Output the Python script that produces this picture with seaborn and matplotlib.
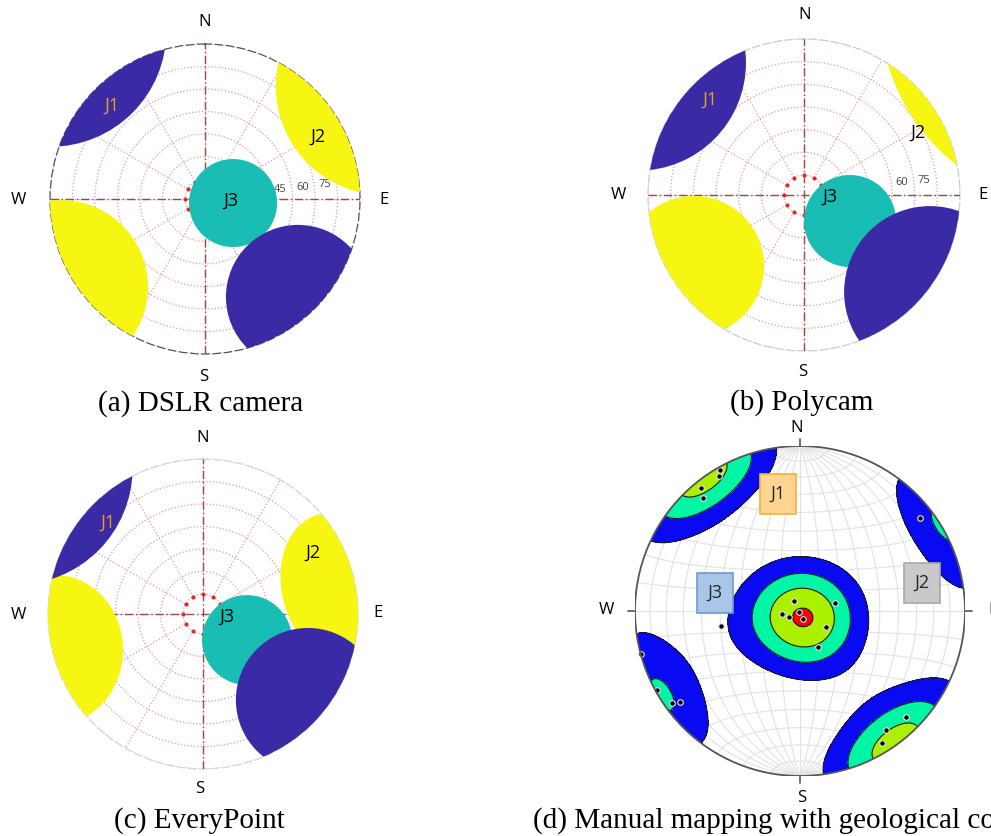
import numpy as np
import matplotlib
matplotlib.use("Agg")
import matplotlib.pyplot as plt
import seaborn as sns
from matplotlib.patches import Ellipse, Circle

sns.set_theme(style="white")
plt.rcParams["font.family"] = ["Open Sans", "DejaVu Sans"]

W, H = 991, 836

# point-cloud clusters (a)-(c), net coords (east, north), rim radius = 1
sets_abc = ["J1", "J2", "J2", "J1", "J3"]
a_x = [-0.997, 1.159, -0.929, 0.600, 0.181]
a_y = [1.085, 0.726, -0.568, -0.632, -0.026]
a_rx = [0.748, 0.702, 0.561, 0.465, 0.284]
a_ry = [0.748, 0.702, 0.561, 0.465, 0.284]
a_tilt = [0, 0, 0, 0, 0]

b_x = [-1.064, 1.750, -0.705, 0.808, 0.295]
b_y = [0.848, 1.192, -0.455, -0.622, -0.167]
b_rx = [0.692, 1.263, 0.449, 0.551, 0.295]
b_ry = [0.692, 1.263, 0.449, 0.551, 0.295]
b_tilt = [0, 0, 0, 0, 0]

c_x = [-1.206, 0.870, -0.955, 0.677, 0.284]
c_y = [0.942, 0.168, -0.232, -0.555, -0.168]
c_rx = [0.752, 0.360, 0.439, 0.465, 0.290]
c_ry = [0.752, 0.490, 0.484, 0.465, 0.290]
c_tilt = [0, 15, 0, 0, 0]

# dip-0 points on the inner ring
ring_az = [0, 30, 60, 90, 120, 150, 180, 210, 240, 270, 300, 330]
dip_ticks = [0, 15, 30, 45, 60, 75, 90]

# manual compass poles (d), equal-area lower hemisphere, net coords
j1_x = [-0.485, -0.489, -0.602, -0.589, 0.642, 0.521, 0.499]
j1_y = [0.855, 0.821, 0.745, 0.685, -0.644, -0.719, -0.802]
j2_x = [0.727, -0.964, -0.865, -0.777, -0.727]
j2_y = [0.564, -0.261, -0.477, -0.558, -0.554]
j3_x = [-0.034, 0.212, -0.107, -0.067, -0.006, 0.020, 0.158, 0.111, -0.480]
j3_y = [0.061, 0.050, -0.020, -0.038, -0.008, -0.048, -0.097, -0.220, -0.089]
density_levels = [2.75, 4.3, 5.7, 6.95, 100]
kappa = 8.0

set_colors = {"J1": "#3b2aa6", "J2": "#f6f612", "J3": "#19bdb4"}
contour_colors = ["#0a0af2", "#00f5a5", "#aaf000", "#ff0000"]


def fig_text(px, py, s, **kw):
    fig.text(px / W, 1 - py / H, s, **kw)


def polar_panel(cx, cy, R, xs, ys, rxs, rys, tilts, rim_color, labels):
    ax = fig.add_axes([(cx - R) / W, (H - cy - R) / H, 2 * R / W, 2 * R / H],
                      projection="polar")
    ax.set_theta_zero_location("N")
    ax.set_theta_direction(-1)
    ax.set_ylim(-13.3, 90)
    ax.set_yticks(dip_ticks)
    ax.set_yticklabels([])
    ax.set_xticks([])
    ax.grid(color="#e79a9a", linestyle=":", linewidth=0.9)
    ax.spines["polar"].set(linestyle=(0, (6, 3)), color=rim_color, linewidth=0.9)
    ax.set_facecolor("white")

    for th in np.deg2rad(np.arange(0, 360, 30)):
        ax.plot([th, th], [0, 90], color="#e79a9a", linestyle=":", lw=0.9, zorder=2.4)
    for xx, yy in [([0.5, 0.5], [0, 1]), ([0, 1], [0.5, 0.5])]:
        ax.plot(xx, yy, transform=ax.transAxes, color="#9a4848",
                linestyle=(0, (6, 2, 1, 2)), linewidth=1.0, zorder=2.55)
    for t in labels:
        ax.text(np.deg2rad(83), t - 8, str(t), fontsize=8, color="#444444",
                ha="center", va="center", zorder=2.7)

    sns.scatterplot(x=np.deg2rad(ring_az), y=np.zeros(len(ring_az)), ax=ax,
                    color="#e02a2a", s=9, linewidth=0, zorder=2.6, legend=False)

    for name in ["J2", "J3", "J1"]:
        for x, y, rx, ry, tl, s in zip(xs, ys, rxs, rys, tilts, sets_abc):
            if s != name:
                continue
            ax.add_patch(Ellipse((0.5 + 0.5 * x, 0.5 + 0.5 * y), width=rx, height=ry,
                                 angle=tl, transform=ax.transAxes,
                                 facecolor=set_colors[s], edgecolor="none", zorder=3))
    ax.set_xlabel("")
    ax.set_ylabel("")
    return ax


def to_vec(x, y):
    x = np.asarray(x, float)
    y = np.asarray(y, float)
    r = np.hypot(x, y)
    th = 2 * np.arcsin(np.clip(r / np.sqrt(2), 0, 1))
    az = np.arctan2(x, y)
    return np.stack([np.sin(th) * np.sin(az), np.sin(th) * np.cos(az), -np.cos(th)], axis=-1)


fig = plt.figure(figsize=(W / 100, H / 100), dpi=100)

polar_panel(205, 199, 155, a_x, a_y, a_rx, a_ry, a_tilt, "#555555", [45, 60, 75])
polar_panel(804, 195, 156, b_x, b_y, b_rx, b_ry, b_tilt, "#cfcfcf", [60, 75])
polar_panel(203, 614, 155, c_x, c_y, c_rx, c_ry, c_tilt, "#d5d5d5", [60])

# ---- (d) equal-area net with Fisher density contours
cxd, cyd, Rd = 800, 611, 165
axd = fig.add_axes([(cxd - Rd) / W, (H - cyd - Rd) / H, 2 * Rd / W, 2 * Rd / H])
axd.set_xlim(-1, 1)
axd.set_ylim(-1, 1)
axd.set_aspect("equal")
axd.axis("off")

rim = Circle((0, 0), 1, transform=axd.transData)
t = np.linspace(-np.pi / 2, np.pi / 2, 181)
for deg in range(-80, 90, 10):
    g = np.deg2rad(deg)
    k = 1 / np.sqrt(1 + np.cos(t) * np.cos(g))
    axd.plot(np.cos(t) * np.sin(g) * k, np.sin(t) * k, color="#e2e2e2", lw=0.8, zorder=1)
    k = 1 / np.sqrt(1 + np.cos(g) * np.cos(t))
    axd.plot(np.cos(g) * np.sin(t) * k, np.sin(g) * k, color="#e2e2e2", lw=0.8, zorder=1)

poles = to_vec(j1_x + j2_x + j3_x, j1_y + j2_y + j3_y)
gx, gy = np.meshgrid(np.linspace(-1.03, 1.03, 321), np.linspace(-1.03, 1.03, 321))
gv = to_vec(gx, gy)
dens = np.exp(kappa * (np.abs(gv @ poles.T) - 1)).sum(axis=-1)

cf = axd.contourf(gx, gy, dens, levels=density_levels, colors=contour_colors, zorder=2)
cl = axd.contour(gx, gy, dens, levels=density_levels[:-1], colors="k", linewidths=0.8, zorder=2.1)
cf.set_clip_path(rim)
cl.set_clip_path(rim)

sns.scatterplot(x=j1_x + j2_x + j3_x, y=j1_y + j2_y + j3_y, ax=axd, color="black",
                s=16, edgecolor="#e8e8e8", linewidth=0.8, zorder=4, legend=False)
axd.add_patch(Circle((0, 0), 1, fill=False, edgecolor="#555555", lw=1.3, zorder=5))
for ang in [0, 90, 180, 270]:
    a = np.deg2rad(ang)
    axd.plot([np.sin(a), 1.04 * np.sin(a)], [np.cos(a), 1.04 * np.cos(a)],
             color="#555555", lw=1.2, zorder=5, clip_on=False)

# ---- compass letters
lab = dict(fontsize=12, ha="center", va="center", color="black")
for (nx, ny), (sx, sy), (wx, wy), (ex, ey) in [
        ((205, 22), (204, 377), (18, 200), (384, 200)),
        ((805, 15), (803, 372), (618, 195), (983, 195)),
        ((203, 438), (200, 789), (18, 615), (378, 613)),
        ((797, 428), (802, 798), (606, 610), (993, 610))]:
    fig_text(nx, ny, "N", **lab)
    fig_text(sx, sy, "S", **lab)
    fig_text(wx, wy, "W", **lab)
    fig_text(ex, ey, "E", **lab)

# ---- set labels
jl = dict(fontsize=13, ha="center", va="center")
fig_text(112, 106, "J1", color="#eaa010", **jl)
fig_text(318, 137, "J2", color="black", **jl)
fig_text(231, 201, "J3", color="black", **jl)
fig_text(710, 100, "J1", color="#eaa010", **jl)
fig_text(918, 133, "J2", color="black", **jl)
fig_text(830, 197, "J3", color="black", **jl)
fig_text(108, 523, "J1", color="#eaa010", **jl)
fig_text(313, 553, "J2", color="black", **jl)
fig_text(227, 617, "J3", color="black", **jl)

box = dict(boxstyle="square,pad=0.6")
fig_text(778, 494, "J1", bbox=dict(box, fc="#ffd591", ec="#f2b33a", lw=1.2), **jl)
fig_text(922, 583, "J2", bbox=dict(box, fc="#c9c9c9", ec="#a8a8a8", lw=1.2), **jl)
fig_text(715, 593, "J3", bbox=dict(box, fc="#a9c6e8", ec="#6d9ad0", lw=1.2), **jl)

# ---- captions
cap = dict(fontsize=21, family="Liberation Serif", va="center", color="black")
fig_text(201, 404, "(a) DSLR camera", ha="center", **cap)
fig_text(802, 403, "(b) Polycam", ha="center", **cap)
fig_text(199, 821, "(c) EveryPoint", ha="center", **cap)
fig_text(533, 821, "(d) Manual mapping with geological compass", ha="left", **cap)

fig.savefig("out.png", dpi=100, facecolor="white")
